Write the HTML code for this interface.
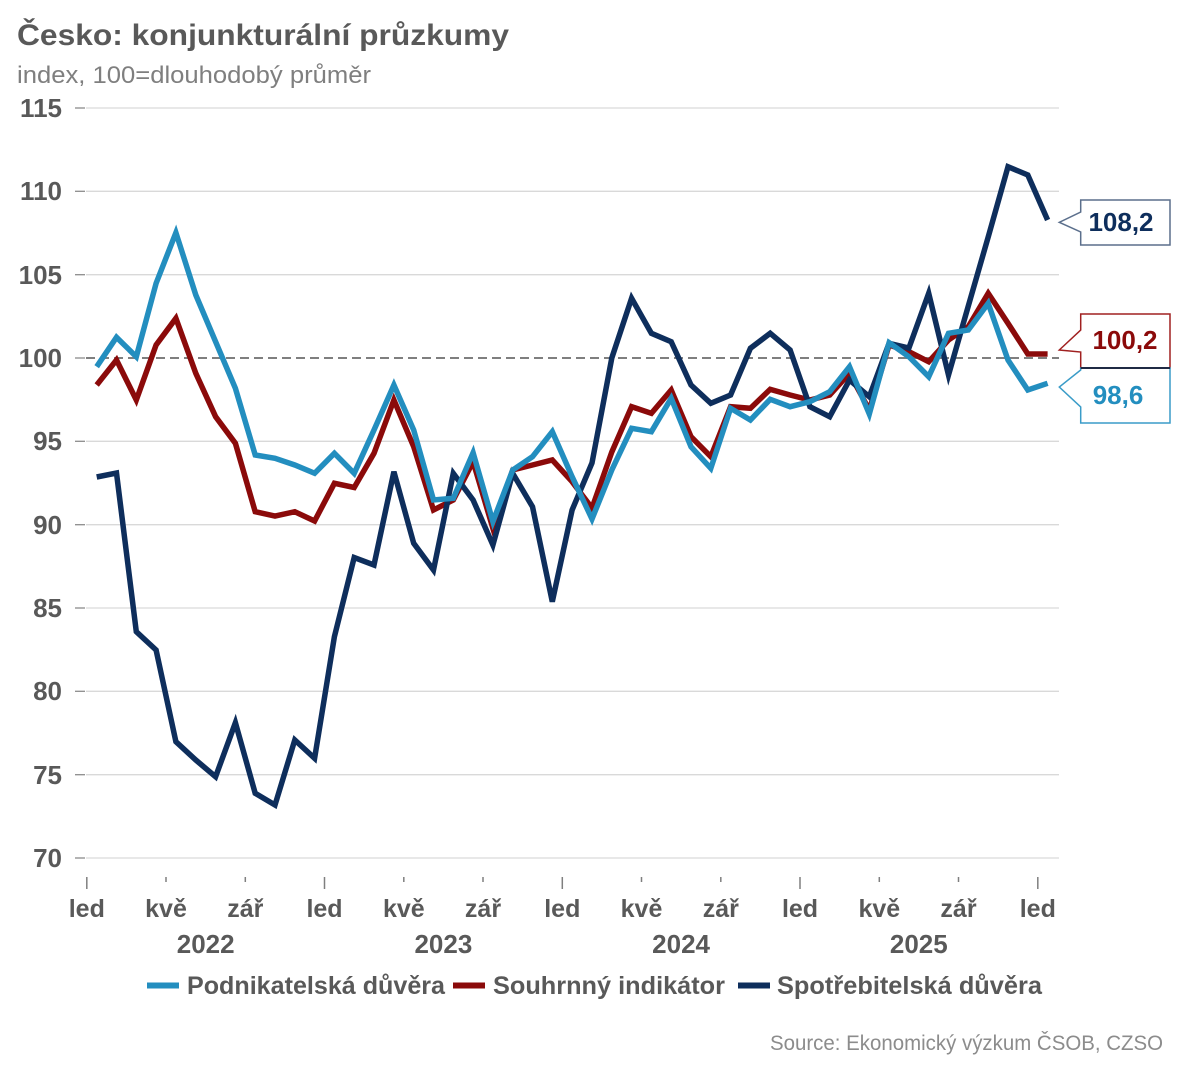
<!DOCTYPE html>
<html><head><meta charset="utf-8"><style>
html,body{margin:0;padding:0;background:#fff;}
svg{display:block;}
text{font-family:"Liberation Sans",sans-serif;}
</style></head><body>
<svg width="1188" height="1080" viewBox="0 0 1188 1080" xmlns="http://www.w3.org/2000/svg">
<rect width="1188" height="1080" fill="#fff"/>
<text x="17" y="45" font-size="30" font-weight="bold" fill="#595959" textLength="492" lengthAdjust="spacingAndGlyphs">Česko: konjunkturální průzkumy</text>
<text x="17" y="83" font-size="24" fill="#7f7f7f" textLength="354" lengthAdjust="spacingAndGlyphs">index, 100=dlouhodobý průměr</text>
<g stroke="#d9d9d9" stroke-width="1.3">
<line x1="86" y1="108" x2="1059" y2="108"/>
<line x1="86" y1="191.3" x2="1059" y2="191.3"/>
<line x1="86" y1="274.7" x2="1059" y2="274.7"/>
<line x1="86" y1="441.3" x2="1059" y2="441.3"/>
<line x1="86" y1="524.7" x2="1059" y2="524.7"/>
<line x1="86" y1="608" x2="1059" y2="608"/>
<line x1="86" y1="691.3" x2="1059" y2="691.3"/>
<line x1="86" y1="774.7" x2="1059" y2="774.7"/>
<line x1="86" y1="858" x2="1059" y2="858"/>
</g>
<g stroke="#8c8c8c" stroke-width="1.3">
<line x1="75" y1="108" x2="85" y2="108"/>
<line x1="75" y1="191.3" x2="85" y2="191.3"/>
<line x1="75" y1="274.7" x2="85" y2="274.7"/>
<line x1="75" y1="358" x2="85" y2="358"/>
<line x1="75" y1="441.3" x2="85" y2="441.3"/>
<line x1="75" y1="524.7" x2="85" y2="524.7"/>
<line x1="75" y1="608" x2="85" y2="608"/>
<line x1="75" y1="691.3" x2="85" y2="691.3"/>
<line x1="75" y1="774.7" x2="85" y2="774.7"/>
<line x1="75" y1="858" x2="85" y2="858"/>
</g>
<line x1="86" y1="358" x2="1059" y2="358" stroke="#7f7f7f" stroke-width="2" stroke-dasharray="9,5"/>
<g font-size="26" font-weight="bold" fill="#595959" text-anchor="end">
<text x="62" y="117">115</text>
<text x="62" y="200">110</text>
<text x="62" y="284">105</text>
<text x="62" y="367">100</text>
<text x="62" y="450">95</text>
<text x="62" y="534">90</text>
<text x="62" y="617">85</text>
<text x="62" y="700">80</text>
<text x="62" y="784">75</text>
<text x="62" y="867">70</text>
</g>
<g stroke="#7f7f7f" stroke-width="1.5">
<line x1="86.8" y1="877" x2="86.8" y2="889"/>
<line x1="166" y1="877" x2="166" y2="882"/>
<line x1="245.3" y1="877" x2="245.3" y2="882"/>
<line x1="324.5" y1="877" x2="324.5" y2="889"/>
<line x1="403.8" y1="877" x2="403.8" y2="882"/>
<line x1="483" y1="877" x2="483" y2="882"/>
<line x1="562.3" y1="877" x2="562.3" y2="889"/>
<line x1="641.5" y1="877" x2="641.5" y2="882"/>
<line x1="720.8" y1="877" x2="720.8" y2="882"/>
<line x1="800" y1="877" x2="800" y2="889"/>
<line x1="879.3" y1="877" x2="879.3" y2="882"/>
<line x1="958.5" y1="877" x2="958.5" y2="882"/>
<line x1="1037.8" y1="877" x2="1037.8" y2="889"/>
</g>
<g font-size="25" font-weight="bold" fill="#595959" text-anchor="middle">
<text x="86.8" y="917">led</text>
<text x="166" y="917">kvě</text>
<text x="245.3" y="917">zář</text>
<text x="324.5" y="917">led</text>
<text x="403.8" y="917">kvě</text>
<text x="483" y="917">zář</text>
<text x="562.3" y="917">led</text>
<text x="641.5" y="917">kvě</text>
<text x="720.8" y="917">zář</text>
<text x="800" y="917">led</text>
<text x="879.3" y="917">kvě</text>
<text x="958.5" y="917">zář</text>
<text x="1037.8" y="917">led</text>
</g>
<g font-size="26" font-weight="bold" fill="#595959" text-anchor="middle">
<text x="205.7" y="953">2022</text>
<text x="443.4" y="953">2023</text>
<text x="681.1" y="953">2024</text>
<text x="918.8" y="953">2025</text>
</g>
<g fill="none" stroke-width="5.5" stroke-linejoin="miter" stroke-miterlimit="4">
<polyline stroke="#8b0a0a" points="96.7,385 116.5,360 136.3,400 156.1,345 175.9,318.3 195.8,373.3 215.6,416.7 235.4,443.3 255.2,511.7 275,516 294.8,511.7 314.6,521 334.4,483.3 354.2,487.5 374,453.3 393.9,400 413.7,446.7 433.5,510 453.3,500 473.1,461.7 492.9,528.3 512.7,470 532.5,465 552.3,460 572.1,481.7 592,508 611.8,452 631.6,406.7 651.4,413.3 671.2,390 691,436.7 710.8,456.7 730.6,406.7 750.4,408.3 770.2,389.3 790.1,395 809.9,400 829.7,395 849.5,373.3 869.3,410 889.1,345 908.9,351.7 928.7,361.7 948.5,340 968.3,326.7 988.2,293.3 1008,323.3 1027.8,354 1047.6,354"/>
<polyline stroke="#0e2e5c" points="96.7,477 116.5,473 136.3,631.7 156.1,650 175.9,741.7 195.8,760 215.6,776.7 235.4,722.7 255.2,793.3 275,805 294.8,740 314.6,758.3 334.4,636.7 354.2,557.5 374,565 393.9,471.7 413.7,543.3 433.5,570 453.3,473.3 473.1,500 492.9,545 512.7,473.3 532.5,506.7 552.3,601.7 572.1,510 592,463 611.8,358 631.6,298.3 651.4,333.3 671.2,341.7 691,385 710.8,403.3 730.6,395 750.4,348.3 770.2,333.3 790.1,350 809.9,406.7 829.7,416.7 849.5,380 869.3,396.7 889.1,343.3 908.9,348 928.7,293.3 948.5,375 968.3,306 988.2,237 1008,166.7 1027.8,175 1047.6,220"/>
<polyline stroke="#238ebf" points="96.7,366.7 116.5,337.3 136.3,356.7 156.1,283.3 175.9,232.7 195.8,295 215.6,341.7 235.4,388.3 255.2,455 275,458.3 294.8,465 314.6,473.3 334.4,453.3 354.2,473.3 374,430 393.9,385 413.7,430 433.5,500 453.3,498.3 473.1,452.7 492.9,521.7 512.7,470 532.5,456.7 552.3,431.7 572.1,476.7 592,519 611.8,470 631.6,428.3 651.4,431.7 671.2,398.3 691,446.7 710.8,468.3 730.6,408.3 750.4,420 770.2,399.3 790.1,406.7 809.9,401.7 829.7,391.7 849.5,366.7 869.3,414 889.1,342.7 908.9,356.7 928.7,376.7 948.5,333.3 968.3,330 988.2,303.3 1008,360 1027.8,390 1047.6,383.3"/>
</g>
<!-- callouts -->
<path d="M1080.7,200 H1170 V245 H1080.7 V232 L1059.3,222.3 L1080.7,212 Z" fill="#fff" stroke="#5b6f8c" stroke-width="1.5"/>
<text x="1121" y="231" font-size="26" font-weight="bold" fill="#0e2e5c" text-anchor="middle">108,2</text>
<path d="M1080.7,314 H1170 V368 H1080.7 V352 L1059.3,350 L1080.7,330 Z" fill="#fff" stroke="#a02020" stroke-width="1.5"/>
<path d="M1080.7,368 H1170 V423 H1080.7 V407 L1059.3,387 L1080.7,370 Z" fill="#fff" stroke="#3a9cc8" stroke-width="1.5"/>
<line x1="1080.7" y1="368" x2="1170" y2="368" stroke="#1f2a44" stroke-width="2"/>
<text x="1125" y="349" font-size="26" font-weight="bold" fill="#8b0a0a" text-anchor="middle">100,2</text>
<text x="1118" y="404" font-size="26" font-weight="bold" fill="#238ebf" text-anchor="middle">98,6</text>
<!-- legend -->
<rect x="147" y="982.5" width="32" height="6" fill="#238ebf"/>
<text x="187" y="994" font-size="25" font-weight="bold" fill="#595959" textLength="258" lengthAdjust="spacingAndGlyphs">Podnikatelská důvěra</text>
<rect x="453" y="982.5" width="32" height="6" fill="#8b0a0a"/>
<text x="493" y="994" font-size="25" font-weight="bold" fill="#595959" textLength="232" lengthAdjust="spacingAndGlyphs">Souhrnný indikátor</text>
<rect x="738" y="982.5" width="32" height="6" fill="#0e2e5c"/>
<text x="777" y="994" font-size="25" font-weight="bold" fill="#595959" textLength="265" lengthAdjust="spacingAndGlyphs">Spotřebitelská důvěra</text>
<text x="770" y="1050" font-size="21" fill="#8c8c8c" textLength="393" lengthAdjust="spacingAndGlyphs">Source: Ekonomický výzkum ČSOB, CZSO</text>
</svg>
</body></html>
